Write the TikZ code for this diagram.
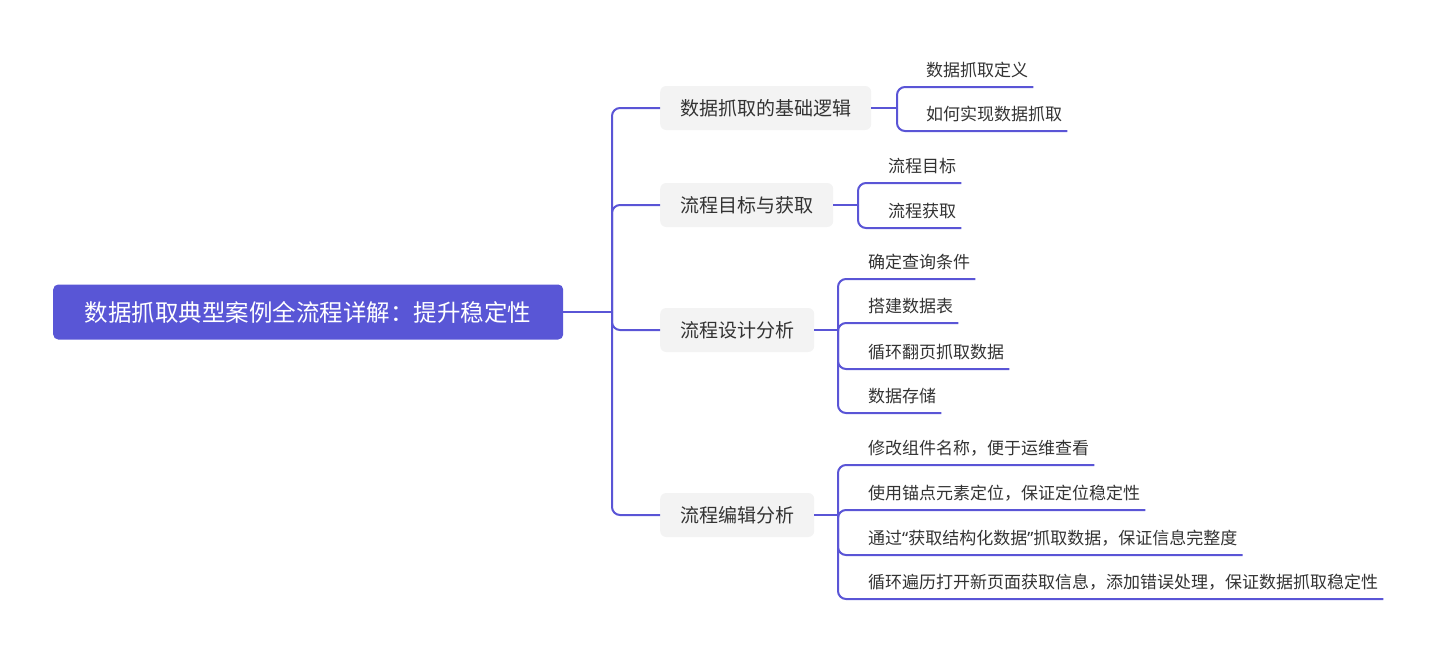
\documentclass[tikz,border=0pt]{standalone}
\usepackage{fontspec}
\newfontfamily\cjk{Noto Sans CJK SC}
\newfontfamily\quotefont{Noto Sans}

\definecolor{mapline}{HTML}{5A55D6}
\definecolor{rootfill}{HTML}{5956D6}
\definecolor{branchfill}{HTML}{F3F3F3}
\definecolor{maptext}{HTML}{333333}

\tikzset{
  root/.style={fill=rootfill, text=white, rounded corners=5pt, anchor=west,
    minimum width=510pt, minimum height=55pt, font=\cjk\fontsize{23.5}{28}\selectfont},
  branch/.style={fill=branchfill, text=maptext, rounded corners=6pt, anchor=west,
    inner xsep=20pt, minimum height=44pt, font=\cjk\fontsize{19}{23}\selectfont},
  leaf/.style={anchor=south west, inner xsep=0pt, inner ysep=0pt, text depth=10pt,
    text=maptext, font=\cjk\fontsize{17}{20}\selectfont},
  link/.style={draw=mapline, line width=2pt, rounded corners=8pt},
}

\begin{document}
\begin{tikzpicture}[x=1pt, y=-1pt]
\useasboundingbox (0,0) rectangle (1440,654);

%Root box
\node [root] (root) at (53,312) {数据抓取典型案例全流程详解：提升稳定性};

%Branch boxes
\node [branch] (logic) at (660,108) {数据抓取的基础逻辑};
\node [branch] (goal) at (660,205) {流程目标与获取};
\node [branch] (design) at (660,330) {流程设计分析};
\node [branch] (edit) at (660,515) {流程编辑分析};

%Root links
\coordinate (trunk) at (612,312);
\draw [link] (root.east) -- (trunk);
\foreach \b in {logic,goal,design,edit}
  \draw [link] (trunk) |- (\b.west);

%Leaves of logic
\node [leaf] (def) at (926,87) {数据抓取定义};
\node [leaf] (how) at (926,131) {如何实现数据抓取};
\coordinate (logicj) at (897,108);
\draw [link] (logic.east) -- (logicj);
\foreach \l in {def,how}
  \draw [link] (logicj) |- ([xshift=5pt]\l.south east);

%Leaves of goal
\node [leaf] (target) at (888,183) {流程目标};
\node [leaf] (fetch) at (888,228) {流程获取};
\coordinate (goalj) at (858,205);
\draw [link] (goal.east) -- (goalj);
\foreach \l in {target,fetch}
  \draw [link] (goalj) |- ([xshift=5pt]\l.south east);

%Leaves of design
\node [leaf] (query) at (868,279) {确定查询条件};
\node [leaf] (table) at (868,323) {搭建数据表};
\node [leaf] (pages) at (868,369) {循环翻页抓取数据};
\node [leaf] (store) at (868,413) {数据存储};
\coordinate (designj) at (838,330);
\draw [link] (design.east) -- (designj);
\foreach \l in {query,table,pages,store}
  \draw [link] (designj) |- ([xshift=5pt]\l.south east);

%Leaves of edit
\node [leaf] (rename) at (868,465) {修改组件名称，便于运维查看};
\node [leaf] (locate) at (868,510) {使用锚点元素定位，保证定位稳定性};
\node [leaf] (struct) at (868,555) {通过{\quotefont“}获取结构化数据{\quotefont”}抓取数据，保证信息完整度};
\node [leaf] (loop) at (868,599) {循环遍历打开新页面获取信息，添加错误处理，保证数据抓取稳定性};
\coordinate (editj) at (838,515);
\draw [link] (edit.east) -- (editj);
\foreach \l in {rename,locate,struct,loop}
  \draw [link] (editj) |- ([xshift=5pt]\l.south east);

\end{tikzpicture}
\end{document}
